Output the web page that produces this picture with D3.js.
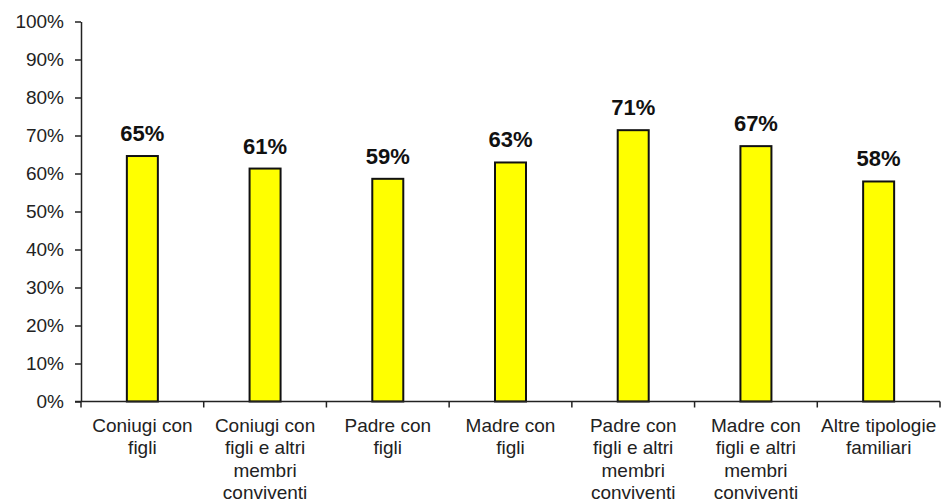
<!DOCTYPE html>
<html>
<head>
<meta charset="utf-8">
<style>
body { margin: 0; background: #fff; }
svg { display: block; font-family: "Liberation Sans", Arial, sans-serif; }
</style>
</head>
<body>
<svg id="chart" width="941" height="501"></svg>
<script src="https://cdn.jsdelivr.net/npm/d3@7/dist/d3.min.js"></script>
<script>
var categories = [
  ["Coniugi con", "figli"],
  ["Coniugi con", "figli e altri", "membri", "conviventi"],
  ["Padre con", "figli"],
  ["Madre con", "figli"],
  ["Padre con", "figli e altri", "membri", "conviventi"],
  ["Madre con", "figli e altri", "membri", "conviventi"],
  ["Altre tipologie", "familiari"]
];
var values = [64.6, 61.3, 58.6, 62.9, 71.4, 67.2, 57.9];
var yTicks = [0, 10, 20, 30, 40, 50, 60, 70, 80, 90, 100];

var svg = d3.select("#chart");
var mLeft = 81, mRight = 940, mTop = 21.5, mBottom = 401.5;

var x = d3.scaleBand().domain(d3.range(categories.length)).range([mLeft, mRight]).paddingInner(0).paddingOuter(0);
var y = d3.scaleLinear().domain([0, 100]).range([mBottom, mTop]);

// y axis
var yAxis = svg.append("g")
  .attr("transform", "translate(" + mLeft + ",0)")
  .call(d3.axisLeft(y).tickValues(yTicks).tickSizeInner(6).tickSizeOuter(0).tickPadding(11).tickFormat(function(d){ return d + "%"; }));
yAxis.select(".domain").attr("stroke", "#222").attr("stroke-width", 1.5);
yAxis.selectAll(".tick line").attr("stroke", "#222").attr("stroke-width", 1.5);
yAxis.selectAll(".tick text").attr("fill", "#222").style("font-size", "19px");

// bars
var barW = 31;
svg.selectAll("rect.bar").data(values).enter().append("rect")
  .attr("class", "bar")
  .attr("x", function(d, i){ return x(i) + x.bandwidth() / 2 - barW / 2; })
  .attr("y", function(d){ return y(d); })
  .attr("width", barW)
  .attr("height", function(d){ return y(0) - y(d); })
  .attr("fill", "#ffff00")
  .attr("stroke", "#111")
  .attr("stroke-width", 2);

// x axis
var xg = svg.append("g").attr("transform", "translate(0," + mBottom + ")");
xg.append("line").attr("x1", mLeft - 6).attr("x2", mRight).attr("stroke", "#222").attr("stroke-width", 1.5);
xg.selectAll("line.tk").data(d3.range(categories.length + 1)).enter().append("line")
  .attr("class", "tk")
  .attr("x1", function(i){ return mLeft + i * x.bandwidth(); })
  .attr("x2", function(i){ return mLeft + i * x.bandwidth(); })
  .attr("y1", 0).attr("y2", 6)
  .attr("stroke", "#222").attr("stroke-width", 1.5);

var labels = xg.selectAll("text.cat").data(categories).enter().append("text")
  .attr("class", "cat")
  .attr("text-anchor", "middle")
  .attr("fill", "#222")
  .style("font-size", "19px")
  .attr("transform", function(d, i){ return "translate(" + (x(i) + x.bandwidth() / 2) + ",30)"; });
labels.selectAll("tspan").data(function(d){ return d; }).enter().append("tspan")
  .attr("x", 0)
  .attr("y", function(d, j){ return j * 22.5; })
  .text(function(d){ return d; });

// value labels
svg.selectAll("text.val").data(values).enter().append("text")
  .attr("class", "val")
  .attr("x", function(d, i){ return x(i) + x.bandwidth() / 2; })
  .attr("y", function(d){ return y(d) - 15; })
  .attr("text-anchor", "middle")
  .attr("font-weight", "bold")
  .attr("fill", "#111")
  .style("font-size", "22px")
  .text(function(d){ return Math.round(d) + "%"; });
</script>
</body>
</html>
